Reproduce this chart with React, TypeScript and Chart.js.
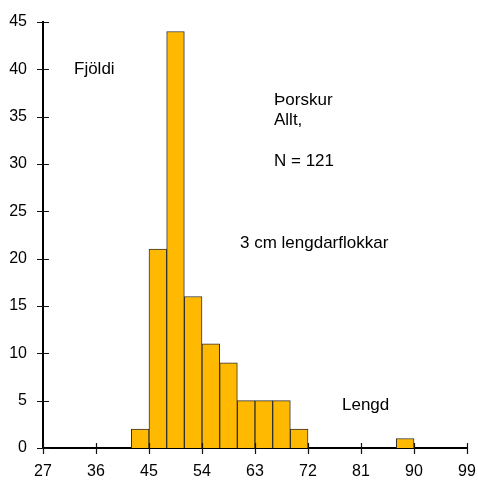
import { useEffect, useRef } from "react";
import { Chart, registerables } from "chart.js";

Chart.register(...registerables);

// Histogram of lengths (cm), 3 cm classes
const binStarts = [42, 45, 48, 51, 54, 57, 60, 63, 66, 69, 87];
const binWidth = 3;
const counts = [2, 21, 44, 16, 11, 9, 5, 5, 5, 2, 1];
const xTickValues = [27, 36, 45, 54, 63, 72, 81, 90, 99];
const yTickValues = [0, 5, 10, 15, 20, 25, 30, 35, 40, 45];
const annotationTexts = ["Fjöldi", "Þorskur", "Allt,", "N = 121", "3 cm lengdarflokkar", "Lengd"];

const FONT = "'Liberation Sans', Arial, sans-serif";

const crossTicks = {
  id: "crossTicks",
  afterDatasetsDraw(chart: any) {
    const ctx = chart.ctx;
    const xs = chart.scales.x;
    const ys = chart.scales.y;
    const { left, bottom } = chart.chartArea;
    ctx.save();
    ctx.strokeStyle = "#111";
    ctx.lineWidth = 1.2;
    ctx.beginPath();
    for (const v of yTickValues) {
      const py = Math.round(ys.getPixelForValue(v)) + 0.5;
      ctx.moveTo(left - 6, py);
      ctx.lineTo(left + 6, py);
    }
    for (const v of xTickValues) {
      const px = Math.round(xs.getPixelForValue(v)) + 0.5;
      ctx.moveTo(px, bottom - 5);
      ctx.lineTo(px, bottom + 6);
    }
    ctx.stroke();
    ctx.restore();
  },
};

const annotationsPlugin = {
  id: "annot",
  afterDraw(chart: any) {
    const ctx = chart.ctx;
    ctx.save();
    ctx.fillStyle = "#000";
    ctx.font = `17px ${FONT}`;
    ctx.textAlign = "left";
    ctx.textBaseline = "alphabetic";
    const pos: [number, number][] = [
      [74, 74],
      [274, 104.5],
      [274, 124.5],
      [274, 166],
      [240, 247.5],
      [342, 410],
    ];
    annotationTexts.forEach((t, i) => ctx.fillText(t, pos[i][0], pos[i][1]));
    ctx.restore();
  },
};

export default function App() {
  const ref = useRef<HTMLCanvasElement | null>(null);
  useEffect(() => {
    if (!ref.current) return;
    const chart = new Chart(ref.current, {
      type: "bar",
      data: {
        datasets: [
          {
            data: binStarts.map((s, i) => ({ x: s + binWidth / 2, y: counts[i] })),
            backgroundColor: "#FFB900",
            borderColor: "#333333",
            borderWidth: 1,
            barPercentage: 1,
            categoryPercentage: 1,
          } as any,
        ],
      },
      options: {
        animation: false,
        responsive: true,
        maintainAspectRatio: false,
        layout: { padding: { top: 22, right: 11, left: 0, bottom: 0 } },
        plugins: { legend: { display: false }, tooltip: { enabled: false } },
        scales: {
          x: {
            type: "linear",
            offset: false,
            min: 27,
            max: 99,
            afterFit: (s: any) => {
              s.height = 32;
              s.paddingLeft = 0;
              s.paddingRight = 0;
            },
            afterBuildTicks: (s: any) => {
              s.ticks = xTickValues.map((v) => ({ value: v }));
            },
            ticks: {
              autoSkip: false,
              maxRotation: 0,
              padding: 14,
              color: "#000",
              font: { family: FONT, size: 16 },
            },
            grid: { display: false, drawTicks: false },
            border: { display: true, color: "#000", width: 2 },
          },
          y: {
            type: "linear",
            min: 0,
            max: 45,
            afterFit: (s: any) => {
              s.width = 43;
              s.paddingTop = 0;
              s.paddingBottom = 0;
            },
            afterBuildTicks: (s: any) => {
              s.ticks = yTickValues.map((v) => ({ value: v }));
            },
            ticks: {
              autoSkip: false,
              padding: 16,
              color: "#000",
              font: { family: FONT, size: 16 },
            },
            grid: { display: false, drawTicks: false },
            border: { display: true, color: "#000", width: 2 },
          },
        },
      } as any,
      plugins: [crossTicks, annotationsPlugin],
    });
    return () => chart.destroy();
  }, []);
  return (
    <div style={{ position: "fixed", left: 0, top: 0, width: 478, height: 480, background: "#fff" }}>
      <canvas ref={ref} />
    </div>
  );
}
